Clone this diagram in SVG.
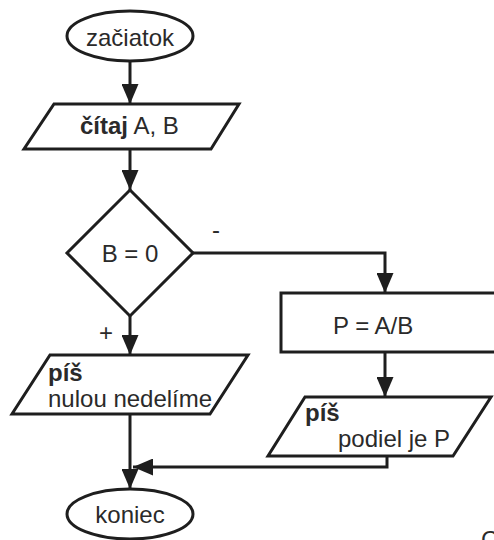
<svg xmlns="http://www.w3.org/2000/svg" width="494" height="540" viewBox="0 0 494 540">
<style>
.s{fill:#fff;stroke:#1e1e1e;stroke-width:3}
.c{fill:none;stroke:#1e1e1e;stroke-width:3}
.t{font-family:"Liberation Sans",Arial,sans-serif;font-size:24px;fill:#2a2a2a}
.b{font-weight:bold}
</style>
<defs>
<marker id="ah" markerUnits="userSpaceOnUse" markerWidth="20" markerHeight="17" refX="20" refY="8.5" orient="auto">
<path d="M0,0 L20,8.5 L0,17 z" fill="#1e1e1e"/>
</marker>
</defs>
<rect width="494" height="540" fill="#fff"/>
<g id="connectors">
<path class="c" d="M130,61 V104" marker-end="url(#ah)"/>
<path class="c" d="M130,149 V190" marker-end="url(#ah)"/>
<path class="c" d="M193,253 H385 V293" marker-end="url(#ah)"/>
<path class="c" d="M130,316 V355" marker-end="url(#ah)"/>
<path class="c" d="M385,352 V397" marker-end="url(#ah)"/>
<path class="c" d="M130,414 V489" marker-end="url(#ah)"/>
<path class="c" d="M387,456 V467 H133" marker-end="url(#ah)"/>
<text class="t" x="212" y="238" font-size="26">-</text>
<text class="t" x="99" y="341" font-size="26">+</text>
</g>
<g id="start">
<ellipse class="s" cx="130" cy="36" rx="63" ry="25"/>
<text class="t" x="130" y="46" text-anchor="middle">začiatok</text>
</g>
<g id="read">
<path class="s" d="M54,104 H239 L211,149 H24 Z"/>
<text class="t" x="80" y="134"><tspan class="b">čítaj</tspan> A, B</text>
</g>
<g id="decision">
<path class="s" d="M130,190 L193,253 L130,316 L67,253 Z"/>
<text class="t" x="130" y="262" text-anchor="middle">B = 0</text>
</g>
<g id="compute">
<rect class="s" x="281" y="293" width="220" height="59"/>
<text class="t" x="333" y="334">P = A/B</text>
</g>
<g id="write-zero">
<path class="s" d="M50,355 H248 L210,414 H12 Z"/>
<text class="t b" x="48" y="381">píš</text>
<text class="t" x="48" y="407">nulou nedelíme</text>
</g>
<g id="write-result">
<path class="s" d="M305,397 H491 L453,456 H268 Z"/>
<text class="t b" x="305" y="421">píš</text>
<text class="t" x="338" y="447">podiel je P</text>
</g>
<g id="end">
<ellipse class="s" cx="130" cy="514" rx="63" ry="25"/>
<text class="t" x="130" y="523" text-anchor="middle">koniec</text>
</g>
<text class="t" x="481" y="548" font-size="22">C</text>
</svg>
